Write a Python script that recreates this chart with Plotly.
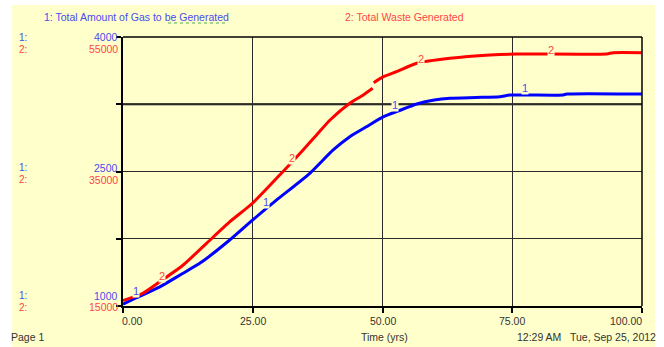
import numpy as np
import plotly.graph_objects as go

# ---- data -------------------------------------------------------------
# 1: Total Amount of Gas to be Generated
time_gas = [0, 2.5, 7, 11, 15, 20.5, 25, 29.5, 36, 40.5, 43.7, 47, 50.2, 53.5,
            56.6, 60, 63, 68, 72.6, 74.6, 84.8, 85.5, 100]
gas = [1020, 1089, 1210, 1346, 1484, 1733, 1960, 2178, 2480, 2740, 2888, 3002,
       3111, 3186, 3253, 3297, 3316, 3325, 3334, 3353, 3353, 3364, 3364]

# 2: Total Waste Generated (None = break in the plotted line)
time_waste = [0, 3.9, 7.1, 11.6, 16.1, 20.6, 25, 30.8, 34.7, 37.3, 39.9, 43.7,
              46.3, 48.1, None, 48.3, 50.2, 52.7, 56.6, 63, 70.7, 75.9, 93.2,
              94.4, 100]
waste = [15800, 16933, 18613, 21097, 24323, 27535, 30316, 34970, 38197, 40440,
         42658, 45141, 46376, 47372, None, 48201, 49097, 49840, 51089, 51833,
         52320, 52472, 52472, 52665, 52665]

x_ticks = [0, 25, 50, 75, 100]
x_tick_text = ["0.00", "25.00", "50.00", "75.00", "100.00"]
gas_range = [1000, 4000]
waste_range = [15000, 55000]
gas_labels = ["1000", "2500", "4000"]
waste_labels = ["15000", "35000", "55000"]
gas_label_times = [2.5, 27.5, 52.5, 77.5]
waste_label_times = [7.5, 32.5, 57.5, 82.5]

# ---- styling ----------------------------------------------------------
W, H = 664, 347
L, R, T, B = 123, 642, 37, 306          # plot area in pixels
BG = "#FFFFCC"
BLUE, RED = "#0000FF", "#FF0000"
BLUE_TXT, RED_TXT = "#4B4BF0", "#FF4646"
TXT = "#333333"
FONT = "Liberation Sans, Arial, sans-serif"


def px(x):
    return (x - L) / (R - L)


def py(y):
    return (B - y) / (B - T)


fig = go.Figure()
fig.add_trace(go.Scatter(x=time_gas, y=gas, mode="lines",
                         line=dict(color=BLUE, width=3, shape="spline",
                                   smoothing=0.6),
                         yaxis="y", hoverinfo="skip", connectgaps=False))
fig.add_trace(go.Scatter(x=time_waste, y=waste, mode="lines",
                         line=dict(color=RED, width=3, shape="spline",
                                   smoothing=0.6),
                         yaxis="y2", hoverinfo="skip", connectgaps=False))

ann = []


def text(x, y, s, color=TXT, xanchor="left", size=10.5, **kw):
    ann.append(dict(x=x, y=y, xref="paper", yref="paper", text=s,
                    showarrow=False, xanchor=xanchor, yanchor="middle",
                    borderpad=0,
                    font=dict(family=FONT, size=size, color=color), **kw))


# header / footer text
text(px(43), py(17), "1: Total Amount of Gas to be Generated", BLUE_TXT)
text(px(344), py(17), "2: Total Waste Generated", RED_TXT)
text(px(10), py(337), "Page 1")
text(px(384), py(337), "Time (yrs)", xanchor="center")
text(px(657), py(337), "12:29 AM   Tue, Sep 25, 2012", xanchor="right")

# x tick labels
for v, s in zip(x_ticks, x_tick_text):
    anchor = "left" if v == x_ticks[0] else ("right" if v == x_ticks[-1] else "center")
    shift = -3 if v == x_ticks[0] else (2 if v == x_ticks[-1] else 0)
    ann.append(dict(x=v, y=py(321), xref="x", yref="paper", text=s,
                    showarrow=False, xanchor=anchor, yanchor="middle",
                    xshift=shift,
                    font=dict(family=FONT, size=10.5, color=TXT)))

# paired y-axis scale labels
gas_rows = [295.5, 167.5, 37]
waste_rows = [307, 179.5, 49]
for lab, row in zip(gas_labels, gas_rows):
    text(px(18), py(row), "1:", BLUE_TXT, size=10)
    text(px(119), py(row), lab, BLUE_TXT, xanchor="right", size=10.5)
for lab, row in zip(waste_labels, waste_rows):
    text(px(18), py(row), "2:", RED_TXT, size=10)
    text(px(119), py(row), lab, RED_TXT, xanchor="right", size=10.5)

# series id markers along the curves
for t in gas_label_times:
    yv = float(np.interp(t, time_gas, gas))
    ann.append(dict(x=t, y=yv, xref="x", yref="y", text="1", showarrow=False,
                    yshift=7, bgcolor=BG, borderpad=0,
                    font=dict(family=FONT, size=11, color=BLUE_TXT)))
tw = [t for t in time_waste if t is not None]
ww = [w for w in waste if w is not None]
for t in waste_label_times:
    yv = float(np.interp(t, tw, ww))
    ann.append(dict(x=t, y=yv, xref="x", yref="y2", text="2", showarrow=False,
                    yshift=4, bgcolor=BG, borderpad=0,
                    font=dict(family=FONT, size=11, color=RED_TXT)))

shapes = [
    # page background
    dict(type="rect", xref="paper", yref="paper", x0=px(12), x1=px(655),
         y0=py(347), y1=py(5), fillcolor=BG, line=dict(width=0), layer="below"),
    # heavier grid line
    dict(type="line", xref="x", yref="y", x0=0, x1=100,
         y0=gas_range[0] + 0.75 * (gas_range[1] - gas_range[0]),
         y1=gas_range[0] + 0.75 * (gas_range[1] - gas_range[0]),
         line=dict(color="#000000", width=2), layer="below"),
    # top / right frame
    dict(type="line", xref="paper", yref="paper", x0=0, x1=1, y0=1, y1=1,
         line=dict(color="#000000", width=1.5)),
    dict(type="line", xref="paper", yref="paper", x0=1, x1=1, y0=0, y1=1,
         line=dict(color="#000000", width=1.5)),
    # spell-check squiggle under "Generated"
    dict(type="line", xref="paper", yref="paper", x0=px(168), x1=px(228),
         y0=py(23), y1=py(23), line=dict(color="#4CAF50", width=1, dash="dot")),
]

axis_common = dict(showline=True, linecolor="#000000", linewidth=2,
                   ticks="outside", ticklen=5, tickwidth=2, tickcolor="#000000",
                   showticklabels=False, showgrid=True, gridcolor="#2a2a2a",
                   gridwidth=1, zeroline=False, fixedrange=True)

fig.update_layout(
    width=W, height=H,
    margin=dict(l=L, r=W - R, t=T, b=H - B, pad=0),
    paper_bgcolor="#FFFFFF", plot_bgcolor=BG,
    showlegend=False,
    xaxis=dict(range=[0, 100], tickvals=x_ticks, **axis_common),
    yaxis=dict(range=gas_range,
               tickvals=list(np.linspace(gas_range[0], gas_range[1], 5)),
               **axis_common),
    yaxis2=dict(range=waste_range, overlaying="y", visible=False,
                showgrid=False, zeroline=False, fixedrange=True),
    annotations=ann,
    shapes=shapes,
)

fig.write_html("out.html", config={"displayModeBar": False})
